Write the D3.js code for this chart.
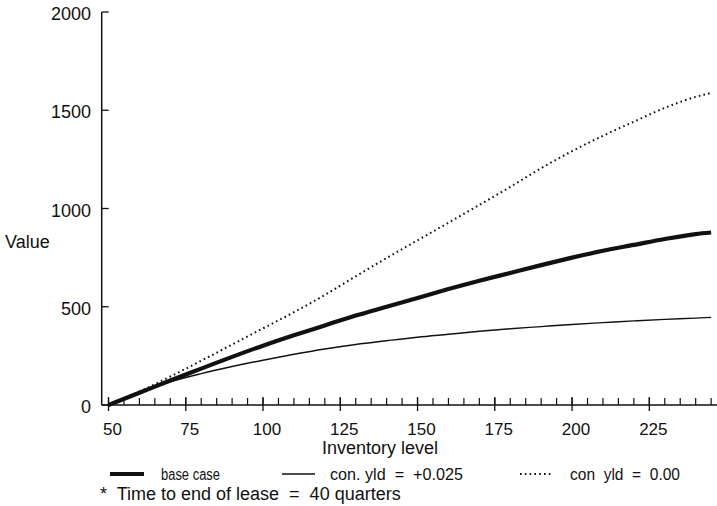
<!DOCTYPE html>
<html>
<head>
<meta charset="utf-8">
<script src="https://cdn.jsdelivr.net/npm/d3@7"></script>
<style>
  html, body { margin: 0; padding: 0; background: #fff; }
  svg { display: block; }
  text { font-family: "Liberation Sans", Arial, Helvetica, sans-serif; fill: #111; }
  .narrow { font-family: "Liberation Sans Narrow", "Arial Narrow", "Liberation Sans", sans-serif; }
</style>
</head>
<body>
<svg id="chart" width="717" height="506"></svg>
<script>
// ---- data ----
const inventory = [50, 60, 70, 80, 90, 100, 110, 120, 130, 140, 150, 160, 170, 180, 190, 200, 210, 220, 230, 240, 245];
const baseCase  = [0, 62, 125, 185, 245, 302, 355, 405, 455, 500, 545, 590, 632, 672, 712, 750, 785, 815, 845, 870, 878];
const conYld025 = [0, 62, 118, 160, 196, 228, 258, 285, 308, 327, 345, 360, 375, 388, 399, 410, 419, 428, 436, 442, 446];
const conYld000 = [0, 68, 145, 225, 308, 390, 472, 560, 655, 748, 838, 928, 1018, 1110, 1205, 1292, 1370, 1442, 1512, 1568, 1588];
const yTicks = [0, 500, 1000, 1500, 2000];
const xMajorTicks = [50, 75, 100, 125, 150, 175, 200, 225];
const xMinorTicks = d3.range(50, 246, 5);
const seriesNames = ["base case", "con. yld  =  +0.025", "con  yld  =  0.00"];
const xTitle = "Inventory level";
const yTitle = "Value";
const footnote = "*  Time to end of lease  =  40 quarters";

// ---- scales ----
const x = d3.scaleLinear().domain([47.8, 246.9]).range([101.7, 717]);
const y = d3.scaleLinear().domain([0, 2000]).range([405, 12]);

const svg = d3.select("#chart");

// axes lines
svg.append("line").attr("x1", x(47.8)).attr("x2", x(47.8)).attr("y1", y(2000)).attr("y2", y(0))
  .attr("stroke", "#111").attr("stroke-width", 1.5);
svg.append("line").attr("x1", x(47.8)).attr("x2", 717).attr("y1", y(0)).attr("y2", y(0))
  .attr("stroke", "#111").attr("stroke-width", 1.5);

// y ticks (inward) and labels
yTicks.forEach(v => {
  svg.append("line").attr("x1", x(47.8)).attr("x2", x(47.8) + 7).attr("y1", y(v)).attr("y2", y(v))
    .attr("stroke", "#111").attr("stroke-width", 1.3);
  svg.append("text").attr("x", 91).attr("y", y(v) + 8).attr("text-anchor", "end")
    .attr("font-size", 18).text(v);
});

// x minor ticks (upward)
xMinorTicks.forEach(v => {
  svg.append("line").attr("x1", x(v)).attr("x2", x(v)).attr("y1", y(0)).attr("y2", y(0) - 7)
    .attr("stroke", "#111").attr("stroke-width", 1.2);
});
// x major ticks (both sides) and labels
xMajorTicks.forEach(v => {
  svg.append("line").attr("x1", x(v)).attr("x2", x(v)).attr("y1", y(0) - 8).attr("y2", y(0) + 6)
    .attr("stroke", "#111").attr("stroke-width", 1.3);
  svg.append("text").attr("x", x(v) + 4).attr("y", 435).attr("text-anchor", "middle")
    .attr("font-size", 17).text(v);
});

// axis titles
svg.append("text").attr("x", 380).attr("y", 454).attr("text-anchor", "middle")
  .attr("font-size", 18).text(xTitle);
svg.append("text").attr("x", 5).attr("y", 248).attr("font-size", 18).text(yTitle);

// lines
const lineGen = d3.line().x((d, i) => x(inventory[i])).y(d => y(d)).curve(d3.curveMonotoneX);
const styles = [
  { w: 4.2, dash: null },
  { w: 1.4, dash: null },
  { w: 2.0, dash: "1.6,3.2" }
];
[baseCase, conYld025, conYld000].forEach((s, k) => {
  svg.append("path").attr("d", lineGen(s)).attr("fill", "none").attr("stroke", "#111")
    .attr("stroke-width", styles[k].w).attr("stroke-dasharray", styles[k].dash)
    .attr("stroke-linejoin", "round");
});

// legend
const legend = [
  { x1: 110, x2: 144, tx: 161, tw: 59 },
  { x1: 282, x2: 315, tx: 330, tw: 133 },
  { x1: 520, x2: 553, tx: 570, tw: 110 }
];
legend.forEach((l, k) => {
  svg.append("line").attr("x1", l.x1).attr("x2", l.x2).attr("y1", 474).attr("y2", 474)
    .attr("stroke", "#111").attr("stroke-width", styles[k].w).attr("stroke-dasharray", styles[k].dash);
  svg.append("text").attr("class", "narrow").attr("x", l.tx).attr("y", 480)
    .attr("font-size", 16).attr("textLength", l.tw).attr("lengthAdjust", "spacingAndGlyphs")
    .style("white-space", "pre").text(seriesNames[k]);
});

// footnote
svg.append("text").attr("x", 100).attr("y", 500).attr("font-size", 18)
  .style("white-space", "pre").text(footnote);
</script>
</body>
</html>
